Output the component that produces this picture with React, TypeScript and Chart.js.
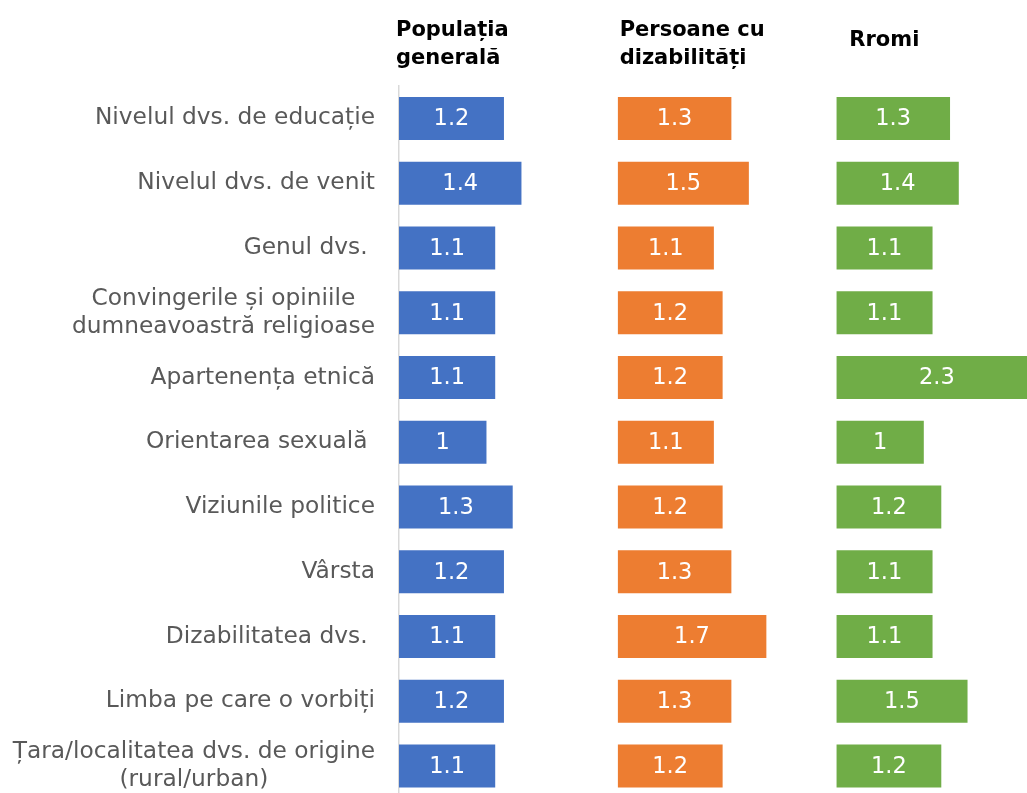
import React, { useEffect, useRef } from "react";
import { Chart, registerables } from "chart.js";

Chart.register(...registerables);

const categories: (string | string[])[] = [
  "Nivelul dvs. de educație",
  "Nivelul dvs. de venit",
  "Genul dvs. ",
  ["Convingerile și opiniile", "dumneavoastră religioase"],
  "Apartenența etnică",
  "Orientarea sexuală ",
  "Viziunile politice",
  "Vârsta",
  "Dizabilitatea dvs. ",
  "Limba pe care o vorbiți",
  ["Țara/localitatea dvs. de origine", "(rural/urban)"],
];

const populatiaGenerala = [1.2, 1.4, 1.1, 1.1, 1.1, 1, 1.3, 1.2, 1.1, 1.2, 1.1];
const persoaneCuDizabilitati = [1.3, 1.5, 1.1, 1.2, 1.2, 1.1, 1.2, 1.3, 1.7, 1.3, 1.2];
const rromi = [1.3, 1.4, 1.1, 1.1, 2.3, 1, 1.2, 1.1, 1.1, 1.5, 1.2];

const seriesNames = ["Populația generală", "Persoane cu dizabilități", "Rromi"];
const panelTitles: string[][] = [
  ["Populația", "generală"],
  ["Persoane cu", "dizabilități"],
  ["Rromi"],
];
const seriesColors = ["#4472C4", "#ED7D31", "#70AD47"];
const axisMax = 2.5;

const FONT = '"DejaVu Sans", Verdana, sans-serif';

const customDraw = {
  id: "customDraw",
  afterDatasetsDraw(chart: any) {
    const ctx = chart.ctx;
    ctx.save();
    ctx.fillStyle = "#ffffff";
    ctx.font = `22.5px ${FONT}`;
    ctx.textAlign = "center";
    ctx.textBaseline = "middle";
    chart.data.datasets.forEach((ds: any, i: number) => {
      const meta = chart.getDatasetMeta(i);
      meta.data.forEach((el: any, j: number) => {
        const p = el.getProps(["x", "y", "base"], true);
        ctx.fillText(String(ds.data[j]), (p.x + p.base) / 2, p.y + 1);
      });
    });
    ctx.restore();
  },
  afterDraw(chart: any) {
    const ctx = chart.ctx;
    const y = chart.scales.y;
    ctx.save();
    // category labels: block right-aligned, lines centred within block
    ctx.font = `23.3px ${FONT}`;
    ctx.fillStyle = "#595959";
    ctx.textAlign = "center";
    ctx.textBaseline = "middle";
    const right = y.right - 24;
    const lh = 27.7;
    categories.forEach((c, i) => {
      const lines = Array.isArray(c) ? c : [c];
      const w = Math.max(...lines.map((l) => ctx.measureText(l).width));
      const cy = y.getPixelForTick(i);
      lines.forEach((l, k) => {
        ctx.fillText(l, right - w / 2, cy + (k - (lines.length - 1) / 2) * lh);
      });
    });
    // panel headers
    ctx.font = `bold 21px ${FONT}`;
    ctx.fillStyle = "#000000";
    ctx.textAlign = "left";
    ctx.textBaseline = "alphabetic";
    const offsets = [-3, 2, 13];
    ["x1", "x2", "x3"].forEach((id, i) => {
      const sc = chart.scales[id];
      const lines = panelTitles[i];
      const baselines = lines.length === 2 ? [36, 63.5] : [45.7];
      lines.forEach((l, k) => ctx.fillText(l, sc.left + offsets[i], baselines[k]));
    });
    ctx.restore();
  },
};

export default function App() {
  const ref = useRef<HTMLCanvasElement | null>(null);

  useEffect(() => {
    if (!ref.current) return;
    const xAxis = () => ({
      type: "linear" as const,
      position: "bottom" as const,
      stack: "panels",
      stackWeight: 1,
      min: 0,
      max: axisMax,
      grid: { display: false, drawTicks: false },
      border: { display: false },
      ticks: { display: false },
    });
    const chart = new Chart(ref.current, {
      type: "bar",
      data: {
        labels: categories as any,
        datasets: [populatiaGenerala, persoaneCuDizabilitati, rromi].map((d, i) => ({
          label: seriesNames[i],
          data: d,
          xAxisID: "x" + (i + 1),
          backgroundColor: seriesColors[i],
          grouped: false,
          barPercentage: 0.664,
          categoryPercentage: 1,
        })),
      },
      options: {
        indexAxis: "y",
        animation: false,
        responsive: true,
        maintainAspectRatio: false,
        layout: { padding: { top: 86, bottom: 1.5, left: 0, right: 5 } },
        plugins: { legend: { display: false }, tooltip: { enabled: false } },
        scales: {
          x1: xAxis(),
          x2: xAxis(),
          x3: xAxis(),
          y: {
            type: "category",
            grid: { display: false, drawTicks: false },
            border: { display: true, color: "#d9d9d9", width: 1.5 },
            ticks: { display: false },
            afterFit: (scale: any) => {
              scale.width = 399;
            },
          },
        },
      } as any,
      plugins: [customDraw],
    });
    return () => chart.destroy();
  }, []);

  return (
    <div style={{ position: "fixed", left: 0, top: 0, width: 1027, height: 793, overflow: "hidden", background: "#fff" }}>
      <div style={{ position: "relative", width: 1060, height: 800 }}>
        <canvas ref={ref} />
      </div>
    </div>
  );
}
